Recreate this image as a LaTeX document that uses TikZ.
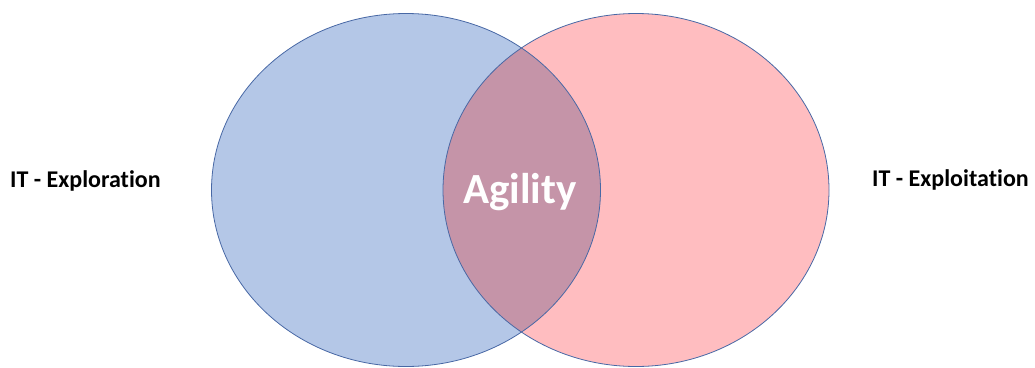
\documentclass[tikz,border=0pt]{standalone}
\usepackage{fontspec}
\setmainfont{Carlito}[Ligatures=NoCommon]
\definecolor{exploreblue}{RGB}{180,199,231}
\definecolor{exploitpink}{RGB}{255,189,192}
\definecolor{overlapmauve}{RGB}{197,148,168}
\definecolor{rimblue}{RGB}{72,104,165}
\begin{document}
\begin{tikzpicture}[x=1pt,y=-1pt,
  rim/.style={draw=rimblue,line width=0.8pt},
  sidelabel/.style={inner sep=0pt,anchor=base west,font=\fontsize{24}{28}\selectfont\bfseries,text=black},
  midlabel/.style={inner sep=0pt,anchor=base,font=\fontsize{43}{50}\selectfont\bfseries,text=white}]
  \useasboundingbox (0,0) rectangle (1035,367);
  % the two sets
  \fill[exploreblue] (406,190) ellipse [x radius=194.5,y radius=176.5];
  \fill[exploitpink] (636,190) ellipse [x radius=193,y radius=176.5];
  % their intersection
  \begin{scope}
    \clip (406,190) ellipse [x radius=194.5,y radius=176.5];
    \fill[overlapmauve] (636,190) ellipse [x radius=193,y radius=176.5];
  \end{scope}
  % outlines
  \draw[rim] (406,190) ellipse [x radius=194.5,y radius=176.5];
  \draw[rim] (636,190) ellipse [x radius=193,y radius=176.5];
  % labels
  \node[sidelabel] (explore) at (10,187) {IT - Exploration};
  \node[sidelabel] (exploit) at (872,186) {IT - Exploitation};
  \node[midlabel] (agility) at (520,203) {Agility};
\end{tikzpicture}
\end{document}
